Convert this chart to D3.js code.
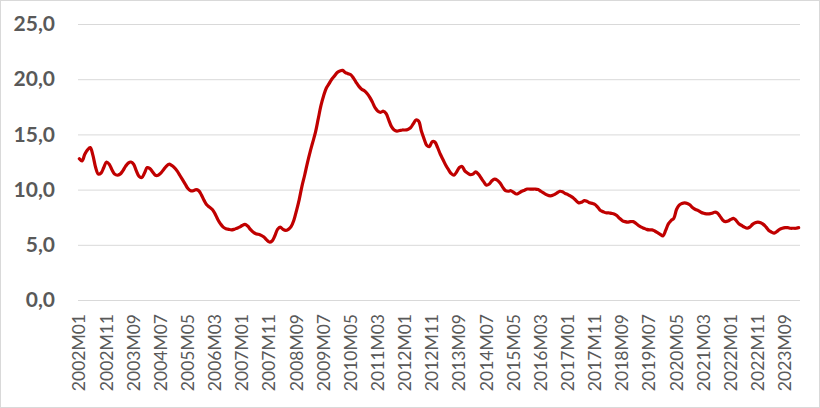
<!DOCTYPE html>
<html>
<head>
<meta charset="utf-8">
<script src="https://cdn.jsdelivr.net/npm/d3@7"></script>
<style>
  html, body { margin: 0; padding: 0; background: #ffffff; }
  svg { display: block; }
</style>
</head>
<body>
<svg id="chart" width="820" height="408"></svg>
<script>
// ---------- DATA ----------
const startYear = 2002;
const values = [
  12.8, 12.6, 13.2, 13.6, 13.8, 13.1, 12.0, 11.4, 11.5, 12.0,
  12.5, 12.3, 11.8, 11.4, 11.3, 11.4, 11.7, 12.1, 12.4, 12.5,
  12.3, 11.7, 11.2, 11.1, 11.5, 12.0, 11.9, 11.6, 11.3, 11.3,
  11.5, 11.8, 12.1, 12.3, 12.2, 12.0, 11.7, 11.3, 10.9, 10.5,
  10.1, 9.9, 9.9, 10.0, 9.9, 9.5, 9.0, 8.6, 8.4, 8.2,
  7.8, 7.3, 6.9, 6.6, 6.45, 6.4, 6.35, 6.4, 6.5, 6.6,
  6.75, 6.85, 6.7, 6.4, 6.15, 6.0, 5.95, 5.85, 5.7, 5.45,
  5.25, 5.35, 5.8, 6.4, 6.6, 6.4, 6.3, 6.4, 6.65, 7.2,
  8.1, 9.1, 10.3, 11.3, 12.4, 13.4, 14.3, 15.2, 16.4, 17.6,
  18.5, 19.2, 19.6, 20.0, 20.3, 20.6, 20.75, 20.8, 20.6, 20.5,
  20.4, 20.1, 19.7, 19.35, 19.1, 18.95, 18.7, 18.35, 17.9, 17.4,
  17.1, 17.0, 17.1, 16.9, 16.3, 15.7, 15.4, 15.3, 15.35, 15.4,
  15.4, 15.45, 15.6, 15.95, 16.3, 16.2, 15.3, 14.6, 14.0, 13.9,
  14.35, 14.3, 13.8, 13.2, 12.7, 12.2, 11.8, 11.45, 11.3, 11.6,
  12.0, 12.1, 11.7, 11.5, 11.35, 11.4, 11.6, 11.4, 11.05, 10.7,
  10.4, 10.5, 10.8, 10.95, 10.85, 10.6, 10.2, 9.9, 9.85, 9.9,
  9.75, 9.6, 9.7, 9.85, 9.95, 10.05, 10.05, 10.05, 10.05, 10.0,
  9.85, 9.7, 9.55, 9.45, 9.45, 9.55, 9.7, 9.85, 9.8, 9.65,
  9.55, 9.4, 9.25, 9.0, 8.8, 8.85, 9.0, 8.95, 8.8, 8.75,
  8.65, 8.4, 8.1, 8.0, 7.9, 7.9, 7.85, 7.8, 7.65, 7.4,
  7.2, 7.1, 7.05, 7.1, 7.1, 6.95, 6.75, 6.6, 6.5, 6.4,
  6.35, 6.35, 6.25, 6.1, 5.95, 5.8, 6.3, 6.9, 7.2, 7.4,
  8.2, 8.6, 8.75, 8.8, 8.75, 8.6, 8.35, 8.2, 8.1, 7.95,
  7.85, 7.8, 7.8, 7.85, 7.95, 7.9, 7.6, 7.25, 7.1, 7.15,
  7.3, 7.4, 7.2, 6.9, 6.75, 6.6, 6.5, 6.6, 6.85, 7.0,
  7.05, 7.0, 6.85, 6.6, 6.3, 6.15, 6.05, 6.2, 6.4, 6.5,
  6.55, 6.55, 6.5, 6.5, 6.5, 6.55
];
// month categories 2002M01 ... (one per value)
const categories = values.map((v, i) => {
  const yr = startYear + Math.floor(i / 12);
  const m = (i % 12) + 1;
  return yr + "M" + String(m).padStart(2, "0");
});
const xTickLabels = [
  "2002M01", "2002M11", "2003M09", "2004M07", "2005M05", "2006M03",
  "2007M01", "2007M11", "2008M09", "2009M07", "2010M05", "2011M03",
  "2012M01", "2012M11", "2013M09", "2014M07", "2015M05", "2016M03",
  "2017M01", "2017M11", "2018M09", "2019M07", "2020M05", "2021M03",
  "2022M01", "2022M11", "2023M09"
];
const yTicks = [0, 5, 10, 15, 20, 25];

(function () {
  // ---------- LAYOUT ----------
  const W = 820, H = 408;
  const mLeft = 78, mRight = 800, mTop = 24, mBottom = 300;

  const svg = d3.select("#chart");

  // chart area border
  svg.append("rect")
    .attr("x", 0.5).attr("y", 0.5)
    .attr("width", W - 1).attr("height", H - 1)
    .attr("fill", "#ffffff")
    .attr("stroke", "#d9d9d9")
    .attr("stroke-width", 1);

  const x = d3.scaleBand().domain(categories).range([mLeft, mRight]).padding(0);
  const y = d3.scaleLinear().domain([0, 25]).range([mBottom, mTop]);

  const fmt = d => d3.format(".1f")(d).replace(".", ",");

  // Y axis with gridlines
  const yAxis = svg.append("g")
    .attr("transform", `translate(${mLeft},0)`)
    .call(d3.axisLeft(y).tickValues(yTicks).tickSize(-(mRight - mLeft)).tickPadding(23).tickFormat(fmt));
  yAxis.select(".domain").remove();
  yAxis.selectAll(".tick line").attr("stroke", "#d9d9d9").attr("stroke-width", 1);
  yAxis.selectAll(".tick text")
    .attr("fill", "#595959")
    .style("font-family", "Lato, 'Open Sans', sans-serif")
    .style("font-size", "21px")
    .style("font-weight", "bold");

  // X axis
  const xAxis = svg.append("g")
    .attr("transform", `translate(0,${mBottom})`)
    .call(d3.axisBottom(x).tickValues(xTickLabels).tickSize(0));
  xAxis.select(".domain").remove();
  xAxis.selectAll(".tick text")
    .attr("transform", "rotate(-90)")
    .attr("x", -14)
    .attr("y", 0)
    .attr("dy", "0.35em")
    .attr("text-anchor", "end")
    .attr("fill", "#595959")
    .style("font-family", "Lato, 'Open Sans', sans-serif")
    .style("font-size", "17.5px");

  // Line
  const line = d3.line()
    .x((d, i) => x(categories[i]) + x.bandwidth() / 2)
    .y(d => y(d))
    .curve(d3.curveCatmullRom.alpha(0.5));

  svg.append("path")
    .datum(values)
    .attr("fill", "none")
    .attr("stroke", "#c00000")
    .attr("stroke-width", 3.2)
    .attr("stroke-linejoin", "round")
    .attr("stroke-linecap", "round")
    .attr("d", line);
})();
</script>
</body>
</html>
